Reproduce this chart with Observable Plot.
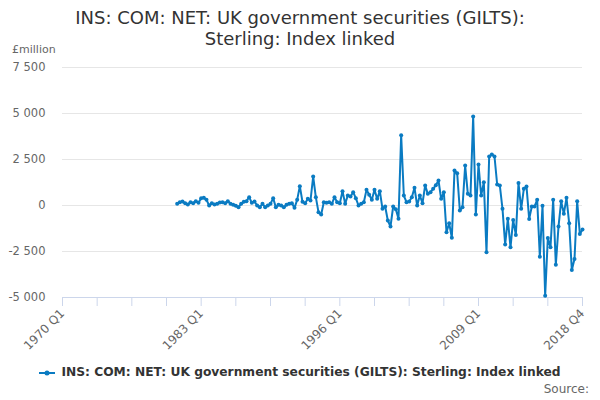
<!DOCTYPE html>
<html>
<head>
<meta charset="utf-8">
<script src="https://cdn.jsdelivr.net/npm/d3@7"></script>
<script src="https://cdn.jsdelivr.net/npm/@observablehq/plot@0.6"></script>
<style>
  html, body { margin: 0; padding: 0; background: #fff; }
  #wrap { position: relative; width: 600px; height: 400px; font-family: "DejaVu Sans", sans-serif; }
  #title { position: absolute; left: 0; top: 7px; width: 600px; text-align: center; font-size: 18px; line-height: 21px; color: #333; }
  #unit { position: absolute; left: 12px; top: 43px; font-size: 11px; color: #666; }
  #legend { position: absolute; left: 0; top: 365px; width: 600px; text-align: center; font-size: 12.25px; font-weight: bold; color: #333; white-space: nowrap; }
  #legend svg { vertical-align: middle; margin-right: 6px; }
  #source { position: absolute; right: 11px; top: 382px; font-size: 12px; color: #666; }
  #chart { position: absolute; left: 0; top: 0; }
</style>
</head>
<body>
<div id="wrap">
  <div id="chart"></div>
  <div id="title">INS: COM: NET: UK government securities (GILTS):<br>Sterling: Index linked</div>
  <div id="unit">£million</div>
  <div id="legend"><svg width="16" height="10"><line x1="0" y1="5" x2="16" y2="5" stroke="#0a7bc2" stroke-width="2"/><circle cx="8" cy="5" r="2.5" fill="#0a7bc2"/></svg>INS: COM: NET: UK government securities (GILTS): Sterling: Index linked</div>
  <div id="source">Source:</div>
</div>
<script>
// Category axis: quarters 1970 Q1 .. 2018 Q4
const firstYear = 1970;
const lastYear = 2018;
const quarters = [];
for (let y = firstYear; y <= lastYear; y++) for (let q = 1; q <= 4; q++) quarters.push(`${y} Q${q}`);

// Series starts at 1980 Q4 (£million)
const seriesStart = "1980 Q4";
const values = [
  90, 181, 217, 127, 54, 181, 127, 236, 145, 399,
  417, 308, 0, 127, 54, 90, 163, 181, 127, 236,
  90, 36, -18, -91, 90, 199, 236, 454, 145, 217,
  0, -91, 90, -91, 0, 90, 400, -91, 36, 0,
  -91, 36, 90, 127, -127, 308, 1051, 200, 127, 363,
  272, 1576, 454, -362, -489, 181, 145, 181, 90, 454,
  181, 127, 779, 100, 543, 489, 725, 400, 0, 90,
  181, 851, 580, 308, 851, 362, 779, -181, -54, -815,
  -1141, -54, -200, -724, 3820, 543, 181, 217, 453, 960,
  0, 543, 127, 1087, 634, 725, 906, 1100, 1359, 362,
  725, -1449, -960, -1757, 1902, 1757, -272, -90, 2174, 634,
  543, 4837, -489, 2228, 543, 1268, -2536, 2663, 2772, 2663,
  1141, 1087, -181, -2120, -724, -2272, -782, -1600, 1218, -182,
  909, 1036, -727, -55, -55, 309, -2781, -18, -4908, -1763,
  -2272, 309, -3217, -1145, 236, -454, 418, -963, -3508, -2908,
  236, -1545, -1300
];

const tickQuarters = ["1970 Q1","1973 Q2","1976 Q3","1979 Q4","1983 Q1","1986 Q2","1989 Q3","1992 Q4",
  "1996 Q1","1999 Q2","2002 Q3","2005 Q4","2009 Q1","2012 Q2","2015 Q3","2018 Q4"];
const labelQuarters = ["1970 Q1","1983 Q1","1996 Q1","2009 Q1","2018 Q4"];
const yTicks = [-5000, -2500, 0, 2500, 5000, 7500];

const startIdx = quarters.indexOf(seriesStart);
const data = values.map((v, k) => ({q: quarters[startIdx + k], v}));

const blue = "#0a7bc2";
const fmt = d => d3.format(",")(d).replace(/,/g, " ").replace("−", "-");

const chart = Plot.plot({
  width: 600,
  height: 400,
  marginTop: 67,
  marginBottom: 103,
  marginLeft: 62,
  marginRight: 18,
  style: {fontFamily: "DejaVu Sans, sans-serif", fontSize: "11px", background: "transparent"},
  x: {type: "point", domain: quarters, padding: 0},
  y: {domain: [-5000, 7500]},
  marks: [
    Plot.ruleY(yTicks.filter(d => d !== -5000), {stroke: "#e6e6e6", strokeOpacity: 1}),
    Plot.ruleY([-5000], {stroke: "#ccd6eb", strokeOpacity: 1}),
    Plot.axisY({ticks: yTicks, tickSize: 0, tickPadding: 17, tickFormat: fmt, fill: "#666", fontSize: 11.5, label: null}),
    Plot.axisX({ticks: tickQuarters, tickSize: 9, stroke: "#ccd6eb", strokeOpacity: 1, tickFormat: () => "", label: null}),
    Plot.axisX({ticks: labelQuarters, tickSize: 0, tickPadding: 14, tickRotate: -45, fill: "#666", fontSize: 12, label: null}),
    Plot.line(data, {x: "q", y: "v", stroke: blue, strokeWidth: 2}),
    Plot.dot(data, {x: "q", y: "v", r: 2, fill: blue, stroke: "none"})
  ]
});
document.getElementById("chart").appendChild(chart);
</script>
</body>
</html>
